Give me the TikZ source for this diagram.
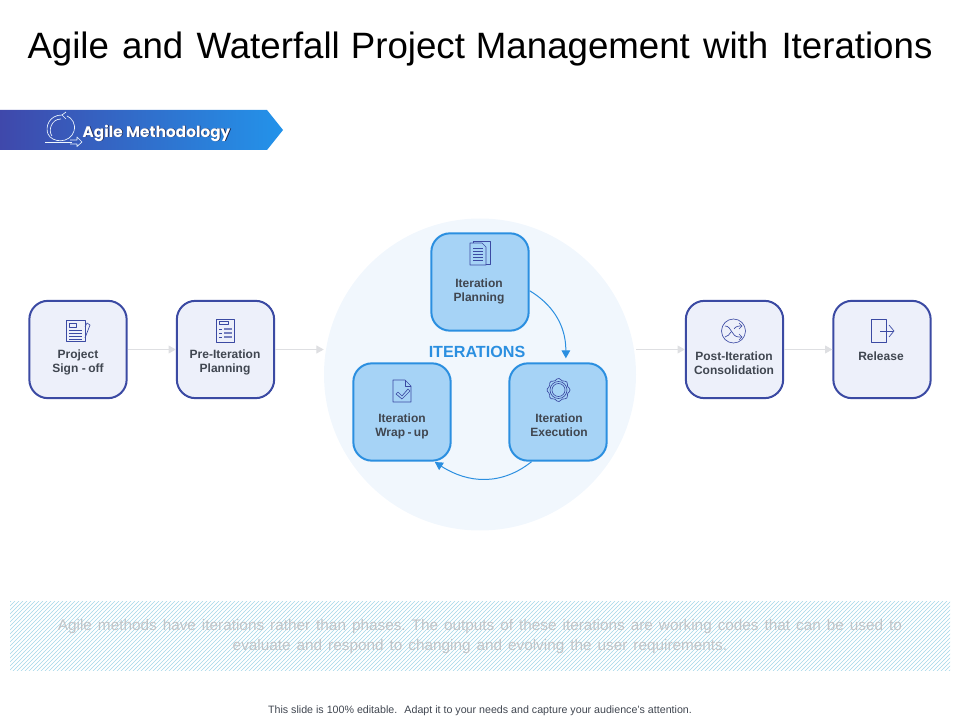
\documentclass[tikz,border=0pt]{standalone}
\usepackage{fontspec}
\setmainfont{Liberation Sans}
\newfontfamily\bannerfont{Poppins}
\usetikzlibrary{arrows.meta,patterns,shadings}
\definecolor{navy}{HTML}{3B4AA3}
\definecolor{paleblue}{HTML}{EDF0FA}
\definecolor{skyline}{HTML}{2B8FE0}
\definecolor{skyfill}{HTML}{A6D3F6}
\definecolor{hubfill}{HTML}{F1F7FD}
\definecolor{labelgrey}{HTML}{404650}
\definecolor{flowgrey}{HTML}{DEDFE2}
\definecolor{hatchblue}{HTML}{A4D6E8}
\definecolor{bannerleft}{HTML}{3F48AB}
\definecolor{bannerright}{HTML}{2393EA}
\tikzset{
  phasebox/.style={draw=navy,fill=paleblue,line width=1.5pt,rounded corners=14pt,minimum size=73pt,inner sep=0pt},
  iterbox/.style={phasebox,draw=skyline,fill=skyfill},
  boxlabel/.style={text=labelgrey,font=\fontsize{9}{10.6}\selectfont\bfseries,align=center,inner sep=0pt},
  flowarrow/.style={draw=flowgrey,line width=.75pt,-{Triangle[length=5.5pt,width=6pt]}},
  looparrow/.style={draw=skyline,line width=.75pt,-{Triangle[length=6pt,width=6.5pt]},shorten >=3pt},
  phaseicon/.style={draw=navy,line width=.5pt,line join=round},
  whiteicon/.style={draw=white!80!skyfill,line width=.5pt,line join=round}
}
\begin{document}
\begin{tikzpicture}[x=.75pt,y=-.75pt]
  \useasboundingbox (0,0) rectangle (960,720);
  \node[font=\fontsize{27.5}{30}\selectfont,inner sep=0pt] (title) at (480,49) {Agile\hspace{.36em}and\hspace{.36em}Waterfall\hspace{.3em}Project\hspace{.3em}Management\hspace{.36em}with\hspace{.36em}Iterations};

  \shade[left color=bannerleft,right color=bannerright,shading angle=90] (0,110) -- (267,110) -- (283,130) -- (267,150) -- (0,150) -- cycle;
  \begin{scope}[whiteicon]
   \draw (45,142) -- (72,142);
   \draw (70,140) -- (77,140) -- (77,137) -- (82,142) -- (77,146.5) -- (77,144) -- (70,144);
   \draw (62,115) .. controls (49,115) and (45,127) .. (48,134) .. controls (52,143) and (70,144) .. (74,131) .. controls (76,124) and (72,118) .. (67,116);
   \draw (62,115) -- (66,112);
   \draw (62,115) -- (66,119);
   \draw (61,119) .. controls (51,119) and (48,131) .. (52,136);
  \end{scope}
  \node[font=\bannerfont\bfseries\fontsize{11.5}{13}\selectfont,text=black!60!bannerleft,inner sep=0pt] (bannershadow) at (157.3,133.8) {Agile Methodology};
  \node[font=\bannerfont\bfseries\fontsize{11.5}{13}\selectfont,text=white,inner sep=0pt] (banner) at (156.5,133) {Agile Methodology};

  \node[circle,fill=hubfill,minimum size=234pt,inner sep=0pt] (hub) at (480,374.5) {};

  \node[phasebox] (signoff) at (78,349.5) {};
  \node[phasebox] (preiter) at (225.5,349.5) {};
  \node[phasebox] (postiter) at (734.5,349.5) {};
  \node[phasebox] (release) at (882,349.5) {};
  \node[iterbox] (planning) at (480,282) {};
  \node[iterbox] (execution) at (558,412) {};
  \node[iterbox] (wrapup) at (402,412) {};

  \node[boxlabel] (signofflabel) at (78,362) {Project\\Sign\hspace{.3em}-\hspace{.2em}off};
  \node[boxlabel] (preiterlabel) at (225,362) {Pre-Iteration\\Planning};
  \node[boxlabel] (postiterlabel) at (734,363) {Post-Iteration\\Consolidation};
  \node[boxlabel] (releaselabel) at (881,356) {Release};
  \node[boxlabel] (planninglabel) at (479,291.5) {Iteration\\Planning};
  \node[boxlabel] (executionlabel) at (559,425) {Iteration\\Execution};
  \node[boxlabel] (wrapuplabel) at (402,426) {Iteration\\Wrap\hspace{.2em}-\hspace{.2em}up};
  \node[text=skyline,font=\fontsize{12.1}{13}\selectfont\bfseries,inner sep=0pt] (iterations) at (477,351.5) {ITERATIONS};

  \draw[flowarrow] (signoff.east) -- (preiter.west);
  \draw[flowarrow] (preiter.east) -- (preiter.east -| hub.west);
  \draw[flowarrow] (postiter.west -| hub.east) -- (postiter.west);
  \draw[flowarrow] (postiter.east) -- (release.west);
  \draw[looparrow] (planning.-10) .. controls +(20,12) and +(0,-40) .. (execution.81);
  \draw[looparrow,shorten >=.5pt] (execution.-118) .. controls +(-30,24) and +(34,22) .. (wrapup.-57);

  % document icons
  \begin{scope}[phaseicon]
   \draw (66,320) rectangle (85,341);
   \draw[fill=paleblue] (69,323) rectangle (76,327);
   \foreach \y in {330,333,336,339} \draw (69,\y) -- (82,\y);
   \draw (85,327) -- (87,323) -- (90,325) -- (85,338);
  \end{scope}
  \begin{scope}[phaseicon]
   \draw (216,319) rectangle (234,342);
   \draw (219,321.5) rectangle (228,324.5);
   \foreach \y in {329,333,337} {
    \draw (219,\y) -- (222,\y);
    \draw[line width=1pt,navy!70] (224,\y) -- (232,\y);
   }
  \end{scope}
  \begin{scope}[phaseicon]
   \draw (473,243) -- (473,241) -- (490,241) -- (490,264) -- (486,264);
   \draw (470,243) -- (482,243) -- (486,247) -- (486,265) -- (470,265) -- cycle;
   \foreach \y in {248,251,254,257,260} \draw (473,\y) -- (483,\y);
  \end{scope}
  \begin{scope}[phaseicon]
   \draw (393,380) -- (405,380) -- (411,386) -- (411,402) -- (393,402) -- cycle;
   \draw (405,380) -- (405,386) -- (411,386);
   \draw (398,392) -- (402,396) -- (408,389) -- (410,391) -- (402,399) -- (396,394) -- cycle;
  \end{scope}
  \begin{scope}[phaseicon]
   \draw (558.5,390) circle (8.5);
   \draw (558.5,390) circle (6.5);
   \draw plot[smooth cycle,samples=33,domain=0:348.75,variable=\t] ({558.5+(10.7+.9*cos(8*\t))*cos(\t)},{390+(10.7+.9*cos(8*\t))*sin(\t)});
  \end{scope}
  \begin{scope}[phaseicon]
   \draw (733.5,331) circle (12);
   \draw (725,326) .. controls (732,326) and (731,337) .. (739,337) -- (742,337);
   \draw (725,337) .. controls (728,337) and (729,334) .. (731,332);
   \draw (734,329) .. controls (736,326) and (738,326) .. (742,326);
   \draw (739,323) -- (742,326) -- (739,329);
   \draw (739,334) -- (742,337) -- (739,340);
  \end{scope}
  \begin{scope}[phaseicon]
   \draw (886,331) -- (886,319) -- (871,319) -- (871,342) -- (886,342) -- (886,331);
   \draw (880,331) -- (893,331);
   \draw (889,325) -- (894,331) -- (889,337);
  \end{scope}

  \fill[pattern=north east lines,pattern color=hatchblue] (10,601) rectangle (950,670);
  \node[text=labelgrey!32!white,font=\fontsize{11.5}{14.4}\selectfont,align=center,inner sep=0pt] (summary) at (480,636.5) {Agile\hspace{.39em}methods\hspace{.39em}have\hspace{.39em}iterations\hspace{.39em}rather\hspace{.39em}than\hspace{.39em}phases.\hspace{.39em}The\hspace{.39em}outputs\hspace{.39em}of\hspace{.39em}these\hspace{.39em}iterations\hspace{.39em}are\hspace{.39em}working\hspace{.39em}codes\hspace{.39em}that\hspace{.39em}can\hspace{.39em}be\hspace{.39em}used\hspace{.39em}to\\evaluate\hspace{.39em}and\hspace{.39em}respond\hspace{.39em}to\hspace{.39em}changing\hspace{.39em}and\hspace{.39em}evolving\hspace{.39em}the\hspace{.39em}user\hspace{.39em}requirements.};
  \node[text=labelgrey,font=\fontsize{8}{9}\selectfont,inner sep=0pt] (footer) at (480,710.5) {This slide is 100\% editable.\hspace{.3em} Adapt it to your needs and capture your audience's attention.};
\end{tikzpicture}
\end{document}
